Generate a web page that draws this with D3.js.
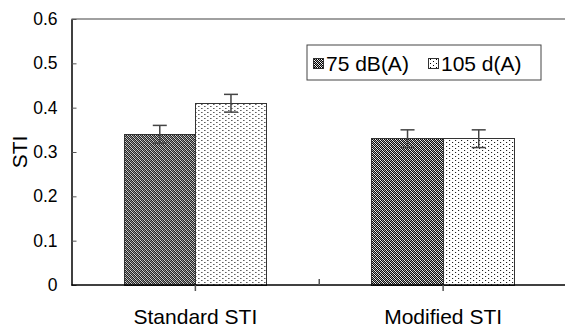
<!DOCTYPE html>
<html>
<head>
<meta charset="utf-8">
<script src="https://cdn.jsdelivr.net/npm/d3@7"></script>
<style>
  body { margin: 0; background: #fff; }
  text { font-family: "Liberation Sans", Arial, sans-serif; fill: #000; }
</style>
</head>
<body>
<div id="chart"></div>
<script>
// chart values
const categories = ['Standard STI', 'Modified STI'];
const seriesNames = ['75 dB(A)', '105 d(A)'];
const values75 = [0.34, 0.33];
const values105 = [0.41, 0.33];
const errors75 = [0.02, 0.02];
const errors105 = [0.02, 0.02];
const yTicks = [0, 0.1, 0.2, 0.3, 0.4, 0.5, 0.6];
const yTickLabels = ['0', '0.1', '0.2', '0.3', '0.4', '0.5', '0.6'];

document.addEventListener('DOMContentLoaded', function() {
    drawChart();
});

function drawChart() {
    const width = 565;
    const height = 327;
    const margin = { top: 19, right: -2, bottom: 42, left: 71.5 };

    const svg = d3.select('#chart')
        .append('svg')
        .attr('width', width)
        .attr('height', height);

    // fill patterns
    const defs = svg.append('defs');
    const dark = defs.append('pattern')
        .attr('id', 'dark')
        .attr('patternUnits', 'userSpaceOnUse')
        .attr('width', 4).attr('height', 4);
    dark.append('rect').attr('width', 4).attr('height', 4).attr('fill', '#000');
    [[0, 0], [1, 1], [2, 2], [3, 3], [2, 0], [0, 2], [3, 1], [1, 3]].forEach(p => {
        dark.append('rect').attr('x', p[0]).attr('y', p[1])
            .attr('width', 1).attr('height', 1)
            .attr('fill', p[0] === p[1] ? '#fff' : '#aaa');
    });
    const dots = defs.append('pattern')
        .attr('id', 'dots')
        .attr('patternUnits', 'userSpaceOnUse')
        .attr('width', 6).attr('height', 4);
    dots.append('rect').attr('width', 6).attr('height', 4).attr('fill', '#fff');
    [[0, 0], [3, 2]].forEach(p => {
        dots.append('rect').attr('x', p[0]).attr('y', p[1])
            .attr('width', 1).attr('height', 1).attr('fill', '#000');
    });
    const fills = ['url(#dark)', 'url(#dots)'];

    const x = d3.scaleBand()
        .domain(categories)
        .range([margin.left, width - margin.right]);
    const xs = d3.scaleBand()
        .domain(seriesNames)
        .range([0, x.bandwidth()])
        .paddingOuter(0.74);
    const y = d3.scaleLinear()
        .domain([0, 0.6])
        .range([height - margin.bottom, margin.top]);

    // top plot border
    svg.append('line')
        .attr('x1', margin.left).attr('x2', width)
        .attr('y1', y(0.6)).attr('y2', y(0.6))
        .attr('stroke', '#808080').attr('stroke-width', 1.5);

    const rows = categories.map((c, i) => [
        { cat: c, name: seriesNames[0], value: values75[i], err: errors75[i], fill: fills[0] },
        { cat: c, name: seriesNames[1], value: values105[i], err: errors105[i], fill: fills[1] }
    ]).flat();

    const bars = svg.append('g').selectAll('g')
        .data(rows)
        .enter()
        .append('g')
        .attr('transform', d => `translate(${x(d.cat) + xs(d.name)},0)`);

    bars.append('rect')
        .attr('x', 0)
        .attr('y', d => y(d.value))
        .attr('width', xs.bandwidth())
        .attr('height', d => y(0) - y(d.value))
        .attr('fill', d => d.fill)
        .attr('stroke', '#333')
        .attr('stroke-width', 1)
        .attr('shape-rendering', 'crispEdges');

    // error bars
    const cx = xs.bandwidth() / 2;
    bars.append('line')
        .attr('x1', cx).attr('x2', cx)
        .attr('y1', d => y(d.value + d.err)).attr('y2', d => y(d.value - d.err))
        .attr('stroke', '#444').attr('stroke-width', 1.5);
    bars.selectAll('.cap')
        .data(d => [d.value + d.err, d.value - d.err])
        .enter()
        .append('line')
        .attr('class', 'cap')
        .attr('x1', cx - 7).attr('x2', cx + 7)
        .attr('y1', v => y(v)).attr('y2', v => y(v))
        .attr('stroke', '#444').attr('stroke-width', 1.5);

    // y axis
    const yAxis = d3.axisLeft(y)
        .tickValues(yTicks)
        .tickFormat((d, i) => yTickLabels[i])
        .tickSizeInner(-5)
        .tickSizeOuter(0)
        .tickPadding(14);
    const gy = svg.append('g')
        .attr('transform', `translate(${margin.left},0)`)
        .call(yAxis);
    gy.select('.domain').attr('stroke', '#000').attr('stroke-width', 1.5);
    gy.selectAll('.tick line').attr('stroke', '#555');
    gy.selectAll('.tick text')
        .attr('font-size', 17.5)
        .attr('font-family', '"Liberation Sans", Arial, sans-serif')
        .attr('fill', '#000');

    // x axis
    const gx = svg.append('g')
        .attr('transform', `translate(0,${y(0)})`);
    gx.append('line')
        .attr('x1', margin.left).attr('x2', width)
        .attr('stroke', '#000').attr('stroke-width', 1.5);
    gx.selectAll('.ctick')
        .data(categories)
        .enter()
        .append('line')
        .attr('x1', d => x(d) + x.bandwidth() / 2)
        .attr('x2', d => x(d) + x.bandwidth() / 2)
        .attr('y1', 0).attr('y2', 6)
        .attr('stroke', '#555').attr('stroke-width', 1.5);
    gx.selectAll('.btick')
        .data(categories.slice(1))
        .enter()
        .append('line')
        .attr('x1', d => x(d)).attr('x2', d => x(d))
        .attr('y1', -6).attr('y2', 0)
        .attr('stroke', '#555').attr('stroke-width', 1.5);
    gx.selectAll('.clabel')
        .data(categories)
        .enter()
        .append('text')
        .attr('x', d => x(d) + x.bandwidth() / 2)
        .attr('y', 39)
        .attr('text-anchor', 'middle')
        .attr('font-size', 21)
        .text(d => d);

    // y title
    svg.append('text')
        .attr('transform', `translate(27,${(y(0) + y(0.6)) / 2}) rotate(-90)`)
        .attr('text-anchor', 'middle')
        .attr('font-size', 21)
        .text('STI');

    // legend
    const legend = svg.append('g').attr('transform', 'translate(307,45)');
    legend.append('rect')
        .attr('width', 234).attr('height', 35)
        .attr('fill', '#fff')
        .attr('stroke', '#444').attr('stroke-width', 1);
    const legendX = [6, 121];
    seriesNames.forEach((name, i) => {
        legend.append('rect')
            .attr('x', legendX[i]).attr('y', 13)
            .attr('width', 10).attr('height', 10)
            .attr('fill', fills[i])
            .attr('stroke', '#333').attr('stroke-width', 1)
            .attr('shape-rendering', 'crispEdges');
        legend.append('text')
            .attr('x', legendX[i] + 13).attr('y', 26)
            .attr('font-size', 21)
            .text(name);
    });
}
</script>
</body>
</html>
